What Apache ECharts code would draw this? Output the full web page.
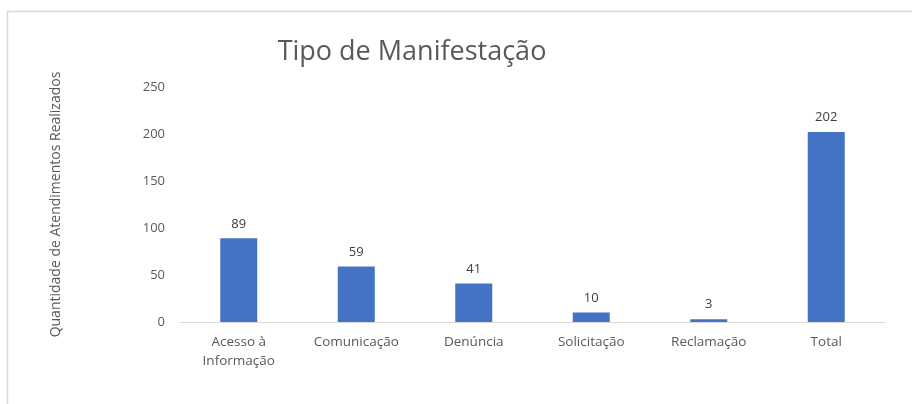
<!DOCTYPE html>
<html>
<head>
<meta charset="utf-8">
<script src="https://cdn.jsdelivr.net/npm/echarts@6/dist/echarts.min.js"></script>
<style>
  html, body { margin: 0; padding: 0; background: #fff; }
  #chart { width: 912px; height: 404px; }
</style>
</head>
<body>
<div id="chart"></div>
<script>
// dados do gráfico
var categorias = ['Acesso à\nInformação', 'Comunicação', 'Denúncia', 'Solicitação', 'Reclamação', 'Total'];
var quantidades = [89, 59, 41, 10, 3, 202];
var yTicks = [0, 50, 100, 150, 200, 250];

var fonte = '"Open Sans", "Noto Sans", sans-serif';
var cinza = '#595959';

var chart = echarts.init(document.getElementById('chart'));
chart.setOption({
    animation: false,
    textStyle: { fontFamily: fonte },
    title: {
        text: 'Tipo de Manifestação',
        left: 407,
        top: 34,
        textAlign: 'center',
        textStyle: { fontFamily: fonte, fontSize: 27, fontWeight: 'normal', color: cinza }
    },
    graphic: [{
        type: 'rect',
        shape: { x: 7.5, y: 11.5, width: 1000, height: 500 },
        style: { fill: 'none', stroke: '#d9d9d9', lineWidth: 1.5 },
        silent: true
    }],
    grid: { left: 180, right: 27, top: 87, bottom: 82 },
    xAxis: {
        type: 'category',
        data: categorias,
        axisLine: { lineStyle: { color: '#d9d9d9', width: 1 } },
        axisTick: { show: false },
        axisLabel: { color: cinza, fontSize: 13.5, margin: 11, lineHeight: 19, interval: 0 }
    },
    yAxis: {
        type: 'value',
        min: yTicks[0],
        max: yTicks[yTicks.length - 1],
        interval: 50,
        name: 'Quantidade de Atendimentos Realizados',
        nameLocation: 'middle',
        nameGap: 117,
        nameRotate: 90,
        nameTextStyle: { color: cinza, fontSize: 14 },
        axisLine: { show: false },
        axisTick: { show: false },
        splitLine: { show: false },
        axisLabel: { color: cinza, fontSize: 13, margin: 15 }
    },
    series: [{
        type: 'bar',
        data: quantidades,
        barWidth: 37,
        itemStyle: { color: '#4472C4' },
        label: { show: true, position: 'top', distance: 8, color: '#404040', fontSize: 13 }
    }]
});
</script>
</body>
</html>
